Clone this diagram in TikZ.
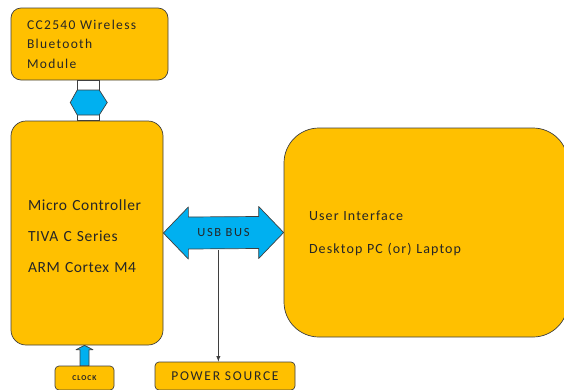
\documentclass[tikz,border=0pt]{standalone}
\usepackage{fontspec}
\setmainfont{Carlito}
\newfontfamily\btfont[LetterSpace=10]{Carlito}
\newfontfamily\mcfont[LetterSpace=4]{Carlito}
\newfontfamily\uifont[LetterSpace=8]{Carlito}
\newfontfamily\tagfont[LetterSpace=13]{Carlito}
\usetikzlibrary{backgrounds,calc}
\definecolor{boxgold}{HTML}{FFC000}
\definecolor{busblue}{HTML}{00B0F0}
\definecolor{edgegray}{HTML}{3F3F3F}
\definecolor{inkdark}{HTML}{262626}

\begin{document}
\begin{tikzpicture}[x=1pt,y=-1pt,line width=0.7pt]
    % `block' is used for the big yellow boxes; text height/depth put the first baseline.
    % `tag' is used for the small boxes along the bottom edge.
    % `link' is used for the blue arrows, `neck' for the white stub.
    \tikzstyle{block} = [draw=edgegray,fill=boxgold,text=inkdark,rounded corners=10pt,align=left,inner ysep=0pt,text height=10pt]
    \tikzstyle{tag} = [draw=edgegray,fill=boxgold,text=inkdark,rounded corners=4pt,align=center,inner sep=0pt]
    \tikzstyle{link} = [draw=edgegray,fill=busblue,line join=round]
    \tikzstyle{neck} = [draw=edgegray,fill=white]
    \path[use as bounding box,clip] (0,0) rectangle (564,389);
    %
    \node[block,minimum width=157pt,minimum height=72pt,inner xsep=16pt,text width=125pt,text depth=39.4pt,
          font=\btfont\fontsize{13.5}{19.5}\selectfont] (bt) at (89.5,44)
          {CC2540 Wireless\\Bluetooth\\Module};
    \node[block,rounded corners=15pt,minimum width=152pt,minimum height=224pt,inner xsep=17pt,text width=118pt,text depth=56pt,
          font=\mcfont\fontsize{15.5}{31}\selectfont] (mc) at (87,233)
          {Micro Controller\\TIVA C Series\\ARM Cortex M4};
    \node[block,rounded corners=35pt,minimum width=284pt,minimum height=209pt,inner xsep=25pt,text width=234pt,text depth=33.6pt,
          font=\uifont\fontsize{14}{32.5}\selectfont] (ui) at (426,232.5)
          {User Interface\\Desktop PC (or) Laptop};
    \node[tag,minimum width=140pt,minimum height=28pt,
          font=\tagfont\fontsize{13.5}{15}\selectfont] (power) at (225,376) {POWER SOURCE};
    \node[tag,minimum width=59pt,minimum height=24pt,
          font=\tagfont\fontsize{7.5}{9}\selectfont\bfseries] (clock) at (84.5,378) {CLOCK};
    %
    % Bluetooth link.
    \draw[neck] ($(bt.south)+(-12.5,0)$) rectangle ($(mc.north)+(12,0)$);
    \coordinate (btmid) at ($(bt.south)!0.5!(mc.north)$);
    \draw[link] ($(btmid)+(-18,2)$) -- ++(7,-12.5) -- ++(22,0) -- ++(8,12.5)
                -- ++(-8,12.5) -- ++(-22,0) -- cycle;
    %
    % USB bus and power tap.
    \coordinate (tap) at ($(mc.east)+(55,17)$);
    \draw[edgegray,line width=0.9pt,-latex] (tap) -- (tap |- power.north);
    \draw[link] (mc.east) -- ++(25,-26) -- ++(0,10) -- ($(ui.west)+(-25,-16)$) -- ++(0,-10)
                -- (ui.west) -- ++(-25,26) -- ++(0,-10) -- ($(mc.east)+(25,16)$) -- ++(0,10) -- cycle;
    \node[text=inkdark,font=\tagfont\fontsize{12.5}{14}\selectfont] (usb) at ($(mc.east)!0.5!(ui.west)$) {USB BUS};
    %
    % Clock input.
    \draw[link] ($(clock.north)+(-4.5,0)$) -- ++(0,-16) -- ++(-4,0) -- (clock.north |- mc.south)
                -- ($(clock.north)+(8.5,-16)$) -- ++(-4,0) -- ($(clock.north)+(4.5,0)$) -- cycle;
\end{tikzpicture}
\end{document}
